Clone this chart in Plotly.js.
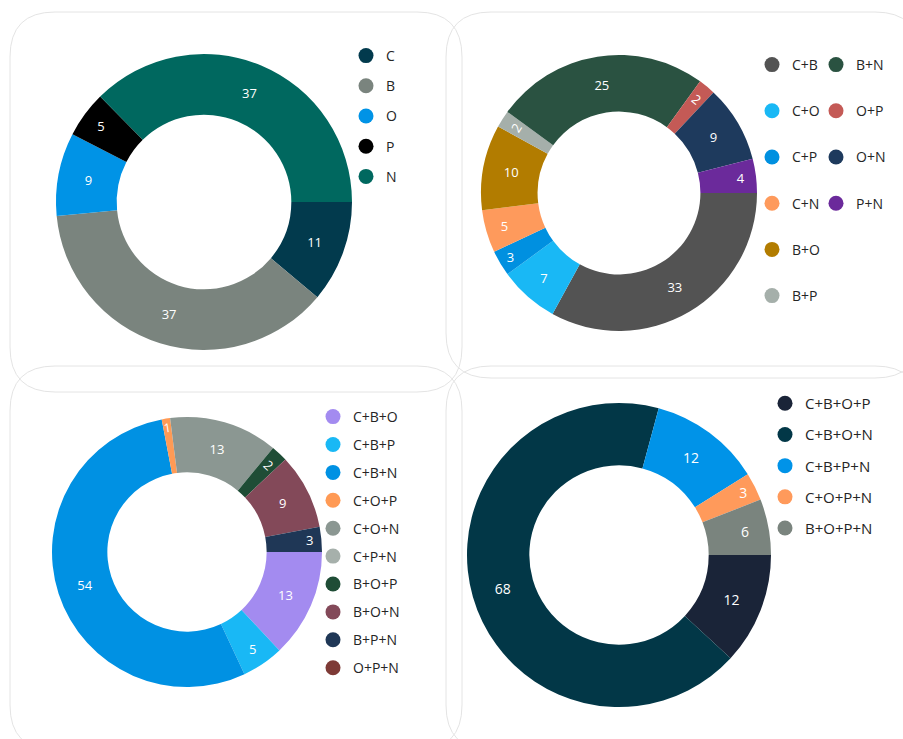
<!DOCTYPE html>
<html><head><meta charset="utf-8">
<script src="https://cdn.plot.ly/plotly-3.0.1.min.js"></script>
<style>html,body{margin:0;padding:0;background:#fff}#chart{width:903px;height:739px}</style>
</head><body><div id="chart"></div>
<script>
// ---------- data ----------
const labels1 = ['C','B','O','P','N'];
const values1 = [11,37,9,5,37];
const colors1 = ['#023a4d','#7a847e','#0093e6','#000000','#00685f'];

const labels2 = ['C+B','C+O','C+P','C+N','B+O','B+P','B+N','O+P','O+N','P+N'];
const values2 = [33,7,3,5,10,2,25,2,9,4];
const colors2 = ['#535353','#19b8f5','#0090e0','#fe9a5c','#b27c00','#a5afaa','#2a5241','#c45a56','#1e3a5d','#6b2a9b'];

const labels3 = ['C+B+O','C+B+P','C+B+N','C+O+P','C+O+N','C+P+N','B+O+P','B+O+N','B+P+N','O+P+N'];
const values3 = [13,5,54,1,13,0,2,9,3,0];
const colors3 = ['#a38bf0','#19b8f5','#0091e3','#ff9a55','#8b9792','#a6b0ab','#1f4d36','#834959','#1f3756','#7e3a36'];

const labels4 = ['C+B+O+P','C+B+O+N','C+B+P+N','C+O+P+N','B+O+P+N'];
const values4 = [12,68,12,3,6];
const colors4 = ['#1a2438','#023747','#0093e8','#ff9a5b','#7a847e'];

// ---------- layout helpers ----------
const W = 903, H = 739;
const px = v => v / W;
const py = v => 1 - v / H;
function dom(cx, cy, r) { return {x:[px(cx - r), px(cx + r)], y:[py(cy + r), py(cy - r)]}; }

function pie(labels, values, colors, domain, fs) {
  return {
    type:'pie', labels, values, sort:false, direction:'clockwise', rotation:90,
    hole:0.59, domain, showlegend:false,
    marker:{colors, line:{width:0}},
    textinfo:'value', textposition:'inside', insidetextorientation:'auto',
    textfont:{color:'#ffffff', size:fs, family:'Open Sans, sans-serif'},
    hoverinfo:'label+value'
  };
}
function legendTraces(labels, colors, legendId, prefix) {
  return labels.map((l, i) => ({
    type:'scatter', mode:'markers', x:[null], y:[null], name:l,
    marker:{color:colors[i], size:15, symbol:'circle'},
    legend:legendId, legendgroup:prefix + i, showlegend:true, hoverinfo:'skip'
  }));
}

const traces = [
  pie(labels1, values1, colors1, dom(204, 202, 148), 13),
  pie(labels2, values2, colors2, dom(619, 193, 138), 13),
  pie(labels3, values3, colors3, dom(187, 552, 135), 13),
  pie(labels4, values4, colors4, dom(619, 555, 152), 14),
  ...legendTraces(labels1, colors1, 'legend', 'a'),
  ...legendTraces(labels2.slice(0,6), colors2.slice(0,6), 'legend2', 'b'),
  ...legendTraces(labels2.slice(6), colors2.slice(6), 'legend3', 'c'),
  ...legendTraces(labels3, colors3, 'legend4', 'd'),
  ...legendTraces(labels4, colors4, 'legend5', 'e')
];

function leg(x, y, gap, fs) {
  return {x:px(x), y:py(y), xanchor:'left', yanchor:'top', bgcolor:'rgba(0,0,0,0)',
    traceorder:'grouped', tracegroupgap:gap,
    font:{family:'Open Sans, sans-serif', size:fs, color:'#252525'}};
}

function card(x0, y0, x1, y1, r) {
  const P = (a, b) => px(a) + ',' + py(b);
  return {
    type:'path', xref:'paper', yref:'paper', layer:'below',
    line:{color:'#e4e4e4', width:1},
    path:'M' + P(x0 + r, y0) + ' L' + P(x1 - r, y0) + ' Q' + P(x1, y0) + ' ' + P(x1, y0 + r) +
         ' L' + P(x1, y1 - r) + ' Q' + P(x1, y1) + ' ' + P(x1 - r, y1) +
         ' L' + P(x0 + r, y1) + ' Q' + P(x0, y1) + ' ' + P(x0, y1 - r) +
         ' L' + P(x0, y0 + r) + ' Q' + P(x0, y0) + ' ' + P(x0 + r, y0) + ' Z'
  };
}

const layout = {
  width:W, height:H, margin:{l:0, r:0, t:0, b:0},
  paper_bgcolor:'#ffffff', plot_bgcolor:'rgba(0,0,0,0)',
  font:{family:'Open Sans, sans-serif'},
  xaxis:{visible:false}, yaxis:{visible:false},
  legend: leg(346, 40, 9, 14),
  legend2: leg(752, 49, 25, 14),
  legend3: leg(816, 49, 25, 14),
  legend4: leg(313, 401, 6.7, 14),
  legend5: leg(765, 387, 8.7, 15),
  shapes:[
    card(10, 12, 462, 392, 45),
    card(446, 12, 920, 378, 45),
    card(10, 366, 462, 750, 45),
    card(446, 366, 920, 750, 45)
  ]
};

Plotly.newPlot('chart', traces, layout, {displayModeBar:false, staticPlot:true});
</script>
</body></html>
